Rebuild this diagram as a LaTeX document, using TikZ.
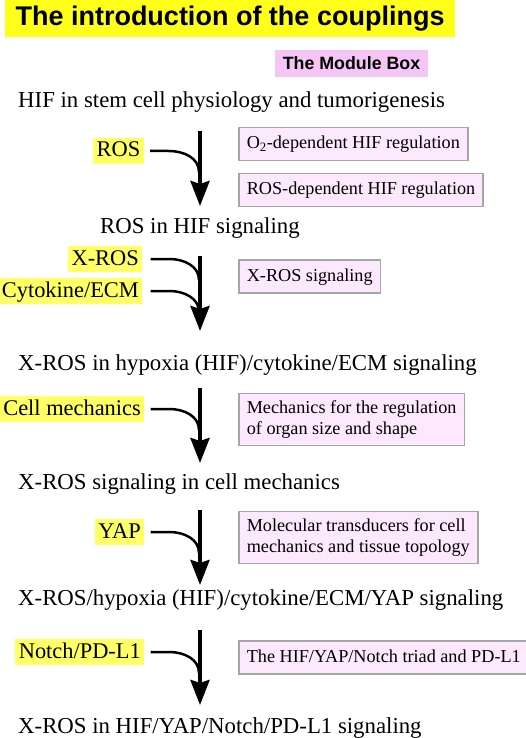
\documentclass[tikz,border=0pt]{standalone}
\usepackage{fontspec}
\setmainfont{Liberation Serif}
\newfontfamily\arialf{Liberation Sans}
\usetikzlibrary{arrows.meta}
\definecolor{titleyellow}{HTML}{FFFF1A}
\definecolor{labyellow}{HTML}{FFFF66}
\definecolor{modpink}{HTML}{F5C6F5}
\definecolor{boxfill}{HTML}{FDE9FD}
\definecolor{boxdraw}{HTML}{A6A6A6}
\tikzset{
  stagetext/.style={anchor=base west, inner sep=0pt, font=\fontsize{22.8}{26}\selectfont},
  inlabel/.style={anchor=base east, fill=labyellow, inner xsep=3.5pt, inner ysep=4pt,
    text height=15pt, text depth=3pt, font=\fontsize{22.4}{26}\selectfont},
  modbox/.style={anchor=west, draw=boxdraw, line width=1.6pt, fill=boxfill,
    inner xsep=8pt, inner ysep=8pt, text height=13pt, text depth=4pt, align=left,
    font=\fontsize{18.2}{21}\selectfont},
  modbox2/.style={modbox, text height=, text depth=, inner ysep=7pt},
  mainarrow/.style={line width=4pt, -{Stealth[length=25pt,width=19pt,inset=3pt]}},
  feed/.style={line width=2.5pt},
}
\begin{document}
\begin{tikzpicture}[x=1pt,y=-1pt]
\useasboundingbox[fill=white] (0,0) rectangle (526,738);
% title
\node[fill=titleyellow, minimum width=450pt, minimum height=37pt, inner sep=0pt,
  font=\arialf\bfseries\fontsize{27}{30}\selectfont] (title) at (230,18.5) {The introduction of the couplings};
\node[fill=modpink, minimum width=153pt, minimum height=27pt, inner sep=0pt,
  font=\arialf\bfseries\fontsize{17.8}{20}\selectfont] (module) at (351.5,63.5) {The Module Box};
% stage texts
\node[stagetext] (s1) at (18,108) {HIF in stem cell physiology and tumorigenesis};
\node[stagetext] (s2) at (100,233) {ROS in HIF signaling};
\node[stagetext] (s3) at (18,370) {X-ROS in hypoxia (HIF)/cytokine/ECM signaling};
\node[stagetext] (s4) at (18,489) {X-ROS signaling in cell mechanics};
\node[stagetext] (s5) at (18,605) {X-ROS/hypoxia (HIF)/cytokine/ECM/YAP signaling};
\node[stagetext] (s6) at (18,733) {X-ROS in HIF/YAP/Notch/PD-L1 signaling};
% input labels
\node[inlabel] (ros) at (144,157) {ROS};
\node[inlabel] (xros) at (142.5,265) {X-ROS};
\node[inlabel] (cyto) at (142.5,297) {Cytokine/ECM};
\node[inlabel] (mech) at (144.5,415) {Cell mechanics};
\node[inlabel] (yap) at (144.5,538) {YAP};
\node[inlabel] (notch) at (144.5,658) {Notch/PD-L1};
% module boxes
\node[modbox] (b1) at (238,144) {O\textsubscript{2}-dependent HIF regulation};
\node[modbox] (b2) at (238,190) {ROS-dependent HIF regulation};
\node[modbox] (b3) at (238,276.5) {X-ROS signaling};
\node[modbox2] (b4) at (238,419.5) {Mechanics for the regulation\\of organ size and shape};
\node[modbox2] (b5) at (238,537.5) {Molecular transducers for cell\\mechanics and tissue topology};
\node[modbox] (b6) at (238,657.5) {The HIF/YAP/Notch triad and PD-L1};
% arrow coordinates
\coordinate (a1s) at (200,131); \coordinate (a1e) at (200,206);
\coordinate (a2s) at (200,256); \coordinate (a2e) at (200,331);
\coordinate (a3s) at (200,388); \coordinate (a3e) at (200,463);
\coordinate (a4s) at (200,510); \coordinate (a4e) at (200,585);
\coordinate (a5s) at (200,630); \coordinate (a5e) at (200,705);
\coordinate (j1) at (199,172);
\coordinate (j2) at (199,280);
\coordinate (j3) at (199,312);
\coordinate (j4) at (199,430);
\coordinate (j5) at (199,553);
\coordinate (j6) at (199,673);
% feed curves
\draw[feed] ([xshift=6pt]ros.east) -- ++(19,0) to[out=0,in=90] (j1);
\draw[feed] ([xshift=8pt]xros.east) -- ++(19,0) to[out=0,in=90] (j2);
\draw[feed] ([xshift=8pt]cyto.east) -- ++(19,0) to[out=0,in=90] (j3);
\draw[feed] ([xshift=6pt]mech.east) -- ++(19,0) to[out=0,in=90] (j4);
\draw[feed] ([xshift=6pt]yap.east) -- ++(19,0) to[out=0,in=90] (j5);
\draw[feed] ([xshift=6pt]notch.east) -- ++(19,0) to[out=0,in=90] (j6);
% main arrows
\draw[mainarrow] (a1s) -- (a1e);
\draw[mainarrow] (a2s) -- (a2e);
\draw[mainarrow] (a3s) -- (a3e);
\draw[mainarrow] (a4s) -- (a4e);
\draw[mainarrow] (a5s) -- (a5e);
\end{tikzpicture}
\end{document}
